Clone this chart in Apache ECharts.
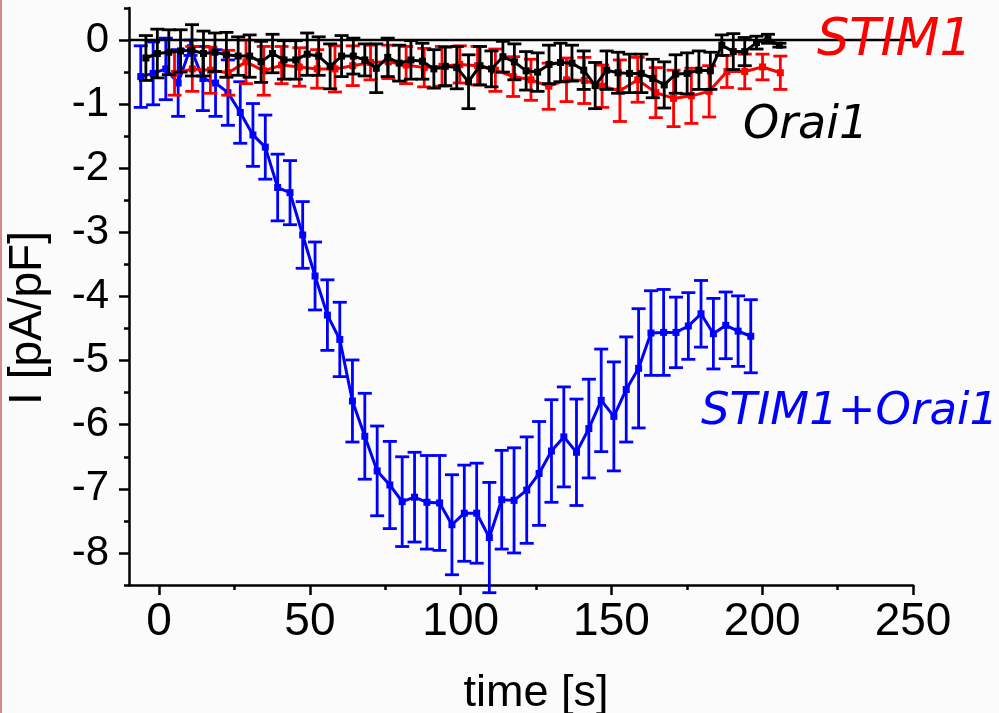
<!DOCTYPE html>
<html>
<head>
<meta charset="utf-8">
<script src="https://cdn.jsdelivr.net/npm/echarts@6/dist/echarts.min.js"></script>
<style>
html,body{margin:0;padding:0;background:#fbfbfb;}
#chart{width:999px;height:713px;}
</style>
</head>
<body>
<div id="chart"></div>
<script>
// ---- data ----
const X_MAJOR = [0, 50, 100, 150, 200, 250];
const X_MINOR = [25, 75, 125, 175, 225];
const Y_MAJOR = [-8, -7, -6, -5, -4, -3, -2, -1, 0];
const Y_MINOR = [-8.5, -7.5, -6.5, -5.5, -4.5, -3.5, -2.5, -1.5, -0.5, 0.5];

// STIM1+Orai1 (blue)
const TIME_BLUE = [-6.1, -2.0, 2.2, 6.3, 10.4, 14.5, 18.7, 22.8, 26.9, 31.1, 35.2, 39.3, 43.4, 47.6, 51.7, 55.8, 59.9, 64.1, 68.2, 72.3, 76.5, 80.6, 84.7, 88.8, 93.0, 97.1, 101.2, 105.3, 109.5, 113.6, 117.7, 121.9, 126.0, 130.1, 134.2, 138.4, 142.5, 146.6, 150.8, 154.9, 159.0, 163.1, 167.3, 171.4, 175.5, 179.7, 183.8, 187.9, 192.0, 196.2];
const BLUE = [-0.57, -0.52, -0.45, -0.67, -0.12, -0.60, -0.67, -0.82, -1.13, -1.48, -1.67, -2.30, -2.38, -3.04, -3.68, -4.29, -4.67, -5.63, -6.18, -6.72, -6.94, -7.20, -7.13, -7.21, -7.22, -7.56, -7.38, -7.38, -7.76, -7.17, -7.18, -7.02, -6.76, -6.41, -6.19, -6.43, -6.06, -5.62, -5.87, -5.45, -5.12, -4.57, -4.56, -4.56, -4.46, -4.27, -4.58, -4.45, -4.54, -4.62];
const BLUE_ERR = [0.48, 0.49, 0.48, 0.52, 0.12, 0.50, 0.52, 0.51, 0.48, 0.49, 0.50, 0.52, 0.50, 0.52, 0.53, 0.55, 0.58, 0.64, 0.67, 0.70, 0.68, 0.70, 0.70, 0.73, 0.74, 0.78, 0.75, 0.78, 0.86, 0.77, 0.82, 0.83, 0.81, 0.80, 0.78, 0.83, 0.77, 0.80, 0.85, 0.82, 0.93, 0.66, 0.67, 0.55, 0.52, 0.52, 0.55, 0.52, 0.55, 0.57];

// Orai1 (black)
const TIME_BLACK = [-4.4, -0.6, 3.2, 7.1, 10.9, 14.7, 18.5, 22.3, 26.2, 30.0, 33.8, 37.6, 41.4, 45.3, 49.1, 52.9, 56.7, 60.5, 64.4, 68.2, 72.0, 75.8, 79.6, 83.5, 87.3, 91.1, 94.9, 98.7, 102.6, 106.4, 110.2, 114.0, 117.8, 121.7, 125.5, 129.3, 133.1, 136.9, 140.8, 144.6, 148.4, 152.2, 156.0, 159.9, 163.7, 167.5, 171.3, 175.1, 179.0, 182.8, 186.6, 190.4, 194.2, 198.1, 201.9, 205.7];
const BLACK = [-0.28, -0.21, -0.19, -0.17, -0.16, -0.21, -0.19, -0.23, -0.25, -0.25, -0.34, -0.21, -0.31, -0.31, -0.22, -0.25, -0.41, -0.25, -0.25, -0.31, -0.44, -0.27, -0.36, -0.31, -0.33, -0.45, -0.41, -0.43, -0.65, -0.40, -0.45, -0.26, -0.34, -0.48, -0.50, -0.38, -0.35, -0.36, -0.47, -0.71, -0.47, -0.51, -0.52, -0.52, -0.60, -0.70, -0.53, -0.52, -0.47, -0.48, -0.08, -0.18, -0.18, -0.04, 0.02, -0.08];
const BLACK_ERR = [0.35, 0.38, 0.35, 0.33, 0.40, 0.35, 0.30, 0.35, 0.30, 0.33, 0.32, 0.30, 0.30, 0.30, 0.33, 0.30, 0.35, 0.32, 0.28, 0.25, 0.38, 0.30, 0.28, 0.30, 0.28, 0.30, 0.30, 0.33, 0.42, 0.30, 0.28, 0.24, 0.28, 0.30, 0.30, 0.30, 0.30, 0.28, 0.30, 0.36, 0.30, 0.32, 0.30, 0.30, 0.30, 0.36, 0.30, 0.32, 0.30, 0.29, 0.16, 0.28, 0.22, 0.10, 0.07, 0.03];

// STIM1 (red)
const TIME_RED = [5.1, 11.0, 17.0, 22.9, 28.8, 34.7, 40.6, 46.5, 52.4, 58.3, 64.2, 70.1, 76.0, 81.9, 87.9, 93.8, 99.7, 105.6, 111.5, 117.4, 123.3, 129.2, 135.1, 141.0, 146.9, 152.8, 158.7, 164.7, 170.6, 176.5, 182.4, 188.3, 194.2, 200.1, 206.0];
const RED = [-0.52, -0.45, -0.47, -0.51, -0.34, -0.48, -0.39, -0.42, -0.45, -0.45, -0.40, -0.35, -0.34, -0.39, -0.43, -0.41, -0.38, -0.40, -0.47, -0.57, -0.62, -0.72, -0.62, -0.63, -0.72, -0.79, -0.62, -0.82, -0.91, -0.87, -0.80, -0.49, -0.49, -0.42, -0.51];
const RED_ERR = [0.34, 0.35, 0.36, 0.35, 0.34, 0.38, 0.29, 0.30, 0.30, 0.36, 0.31, 0.27, 0.26, 0.29, 0.30, 0.31, 0.29, 0.30, 0.33, 0.31, 0.32, 0.36, 0.34, 0.36, 0.33, 0.48, 0.35, 0.39, 0.44, 0.43, 0.40, 0.25, 0.27, 0.20, 0.26];

// ---- build ----
const FONT = '"Liberation Sans", Arial, sans-serif';
const LABEL_FONT = '"DejaVu Sans", sans-serif';

function pairs(t, v) { return t.map((x, i) => [x, v[i]]); }
function errs(t, v, e) { return t.map((x, i) => [x, v[i] - e[i], v[i] + e[i]]); }

function errRender(color) {
  return function (params, api) {
    const x = api.value(0), lo = api.value(1), hi = api.value(2);
    const p1 = api.coord([x, hi]);
    const p2 = api.coord([x, lo]);
    const hw = 7;
    const st = { stroke: color, lineWidth: 2.8 };
    return {
      type: 'group',
      children: [
        { type: 'line', shape: { x1: p1[0], y1: p1[1], x2: p2[0], y2: p2[1] }, style: st },
        { type: 'line', shape: { x1: p1[0] - hw, y1: p1[1], x2: p1[0] + hw, y2: p1[1] }, style: st },
        { type: 'line', shape: { x1: p2[0] - hw, y1: p2[1], x2: p2[0] + hw, y2: p2[1] }, style: st }
      ]
    };
  };
}

function lineSeries(name, data, color, z, extra) {
  return Object.assign({
    name: name, type: 'line', data: data, xAxisIndex: 0, yAxisIndex: 0,
    symbol: 'rect', symbolSize: 7, showSymbol: true,
    lineStyle: { color: color, width: 3 },
    itemStyle: { color: color },
    z: z, clip: false, silent: true
  }, extra || {});
}
function errSeries(name, data, color, z) {
  return {
    name: name + ' err', type: 'custom', data: data, xAxisIndex: 0, yAxisIndex: 0,
    renderItem: errRender(color), encode: { x: 0, y: [1, 2] }, z: z, clip: false, silent: true
  };
}

function tickAxis(min, max, pos, values, len) {
  return {
    type: 'value', min: min, max: max, position: pos,
    axisLine: { show: false, onZero: false },
    axisTick: { show: true, customValues: values, length: len, lineStyle: { color: '#000', width: 2.5 } },
    axisLabel: { show: false },
    splitLine: { show: false }
  };
}

const chart = echarts.init(document.getElementById('chart'), null, { renderer: 'canvas' });
const axisLineStyle = { color: '#000', width: 2.5 };

chart.setOption({
  animation: false,
  backgroundColor: '#fbfbfb',
  grid: { left: 129, right: 86, top: 8, bottom: 128, containLabel: false, outerBoundsMode: 'none' },
  xAxis: [
    {
      type: 'value', min: -10, max: 250, position: 'bottom',
      axisLine: { show: true, onZero: false, lineStyle: axisLineStyle },
      axisTick: { show: false },
      axisLabel: { customValues: X_MAJOR, fontSize: 46, color: '#000', fontFamily: FONT, margin: 14 },
      splitLine: { show: false },
      name: 'time [s]', nameLocation: 'middle', nameGap: 86,
      nameTextStyle: { fontSize: 45, color: '#000', fontFamily: FONT, padding: [0, 0, 0, 30] }
    },
    tickAxis(-10, 250, 'bottom', X_MAJOR, 10),
    tickAxis(-10, 250, 'bottom', X_MINOR, 5)
  ],
  yAxis: [
    {
      type: 'value', min: -8.5, max: 0.5, position: 'left',
      axisLine: { show: true, onZero: false, lineStyle: axisLineStyle },
      axisTick: { show: false },
      axisLabel: { customValues: Y_MAJOR, fontSize: 42, color: '#000', fontFamily: FONT, margin: 20 },
      splitLine: { show: false },
      name: 'I [pA/pF]', nameLocation: 'middle', nameGap: 78, nameRotate: 90,
      nameTextStyle: { fontSize: 46, color: '#000', fontFamily: FONT, padding: [0, 43, 0, 0] }
    },
    tickAxis(-8.5, 0.5, 'left', Y_MAJOR, 10),
    tickAxis(-8.5, 0.5, 'left', Y_MINOR, 5)
  ],
  series: [
    errSeries('STIM1+Orai1', errs(TIME_BLUE, BLUE, BLUE_ERR), '#0000ff', 2),
    lineSeries('STIM1+Orai1', pairs(TIME_BLUE, BLUE), '#0000ff', 3, {
      markLine: {
        silent: true, symbol: 'none', label: { show: false },
        lineStyle: { color: '#000', width: 2.3, type: 'solid' },
        data: [{ yAxis: 0 }]
      }
    }),
    errSeries('STIM1', errs(TIME_RED, RED, RED_ERR), '#ff0000', 4),
    lineSeries('STIM1', pairs(TIME_RED, RED), '#ff0000', 5),
    errSeries('Orai1', errs(TIME_BLACK, BLACK, BLACK_ERR), '#000000', 6),
    lineSeries('Orai1', pairs(TIME_BLACK, BLACK), '#000000', 7)
  ],
  graphic: [
    { type: 'rect', shape: { x: 0, y: 0, width: 2, height: 713 }, style: { fill: '#d88888' }, z: 100 },
    { type: 'text', x: 817, y: 42, z: 100, style: { text: 'STIM1', fill: '#ff0000', font: 'italic 51px ' + LABEL_FONT, verticalAlign: 'middle', align: 'left' } },
    { type: 'text', x: 743, y: 126, z: 100, style: { text: 'Orai1', fill: '#000000', font: 'italic 46px ' + LABEL_FONT, verticalAlign: 'middle', align: 'left' } },
    { type: 'text', x: 701, y: 412, z: 100, style: { text: 'STIM1+Orai1', fill: '#0000ff', font: 'italic 45px ' + LABEL_FONT, verticalAlign: 'middle', align: 'left' } }
  ]
});
</script>
</body>
</html>
